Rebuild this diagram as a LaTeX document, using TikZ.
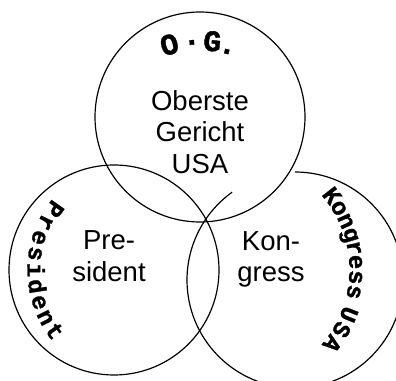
\documentclass[tikz,border=0pt]{standalone}
\usepackage{fontspec}
\setmainfont{Liberation Sans}
\newfontfamily\courfont{Liberation Mono}[BoldFeatures={FakeBold=1.2}]
\begin{document}
\begin{tikzpicture}[x=1pt,y=1pt,
  ring/.style={draw=black, line width=1.2pt},
  maintext/.style={font=\fontsize{27.5}{31.5}\selectfont, align=center, inner sep=0pt},
  arcletter/.style={font=\courfont\bfseries\fontsize{24}{24}\selectfont, inner sep=0pt, anchor=base},
  ogletter/.style={font=\courfont\bfseries\fontsize{30}{30}\selectfont, inner sep=0pt, anchor=base}]

\useasboundingbox (0,0) rectangle (396,380);
\fill[white] (0,0) rectangle (396,380);

% circle centres
\coordinate (ctop) at (200,263);
\coordinate (cleft) at (114,110);
\coordinate (cright) at (295,100);

% the three rings (the right one is left open near the top)
\draw[ring] (ctop) circle[radius=105];
\draw[ring] (cleft) circle[radius=105];
\draw[ring] ([shift={(90:108)}]cright) arc[start angle=90, end angle=-234.4, radius=108];

% labels inside the rings
\node[maintext] (court) at (200,248.3) {Oberste\\Gericht\\USA};
\node[maintext] (pres) at (109,123.6) {Pre-\\sident};
\node[maintext] (kong) at (271,120.8) {Kon-\\gress};

% curved lettering
\coordinate (ogarc) at (200,221);
\foreach \ch/\ang [count=\i] in {O/105,·/94,G/84,./76} {
  \node[ogletter, rotate=\ang-90] (ogch\i) at ([shift={(\ang:108.5)}]ogarc) {\ch};
}

\coordinate (presarc) at (141,110);
\foreach \ch [count=\i from 0] in {P,r,e,s,i,d,e,n,t} {
  \pgfmathsetmacro\ang{144.8+\i*8.8125}
  \node[arcletter, rotate=\ang+90] (presch\i) at ([shift={(\ang:113.5)}]presarc) {\ch};
}

\coordinate (kongarc) at (236,110);
\foreach \ch/\ang [count=\i] in {K/37.8,o/31,n/24,g/17,r/10.5,e/3.8,s/-3.5,s/-10.6,U/-21.5,S/-29.5,A/-37.5} {
  \node[arcletter, rotate=\ang-90] (kongch\i) at ([shift={(\ang:113.5)}]kongarc) {\ch};
}
\end{tikzpicture}
\end{document}
